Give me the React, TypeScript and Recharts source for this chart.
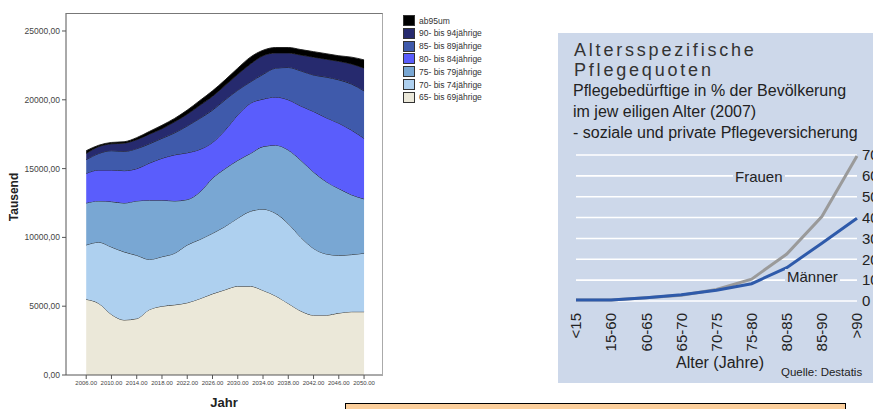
import React from "react"
import { AreaChart, Area, LineChart, Line, XAxis, YAxis, CartesianGrid } from "recharts"

// Pflegebedürftige nach Altersgruppen (Tausend), Jahre 2006–2050
const years = [2006, 2008, 2010, 2012, 2014, 2016, 2018, 2020, 2022, 2024, 2026, 2028, 2030, 2032, 2034, 2036, 2038, 2040, 2042, 2044, 2046, 2048, 2050]
const age65 = [5500, 5200, 4400, 4000, 4100, 4750, 5000, 5100, 5250, 5550, 5900, 6200, 6450, 6450, 6150, 5750, 5200, 4650, 4350, 4350, 4500, 4600, 4600]
const age70 = [3950, 4450, 4900, 4950, 4600, 3650, 3600, 3750, 4200, 4300, 4400, 4600, 4950, 5450, 5900, 6000, 5800, 5350, 4850, 4450, 4200, 4150, 4250]
const age75 = [3050, 3000, 3300, 3550, 3950, 4300, 4100, 3800, 3300, 3450, 4000, 4200, 4200, 4200, 4550, 4950, 5350, 5600, 5550, 5250, 4850, 4350, 3950]
const age80 = [2150, 2250, 2300, 2350, 2350, 2700, 3050, 3350, 3400, 3100, 2600, 2800, 3300, 3650, 3450, 3500, 3650, 3950, 4400, 4650, 4750, 4700, 4400]
const age85 = [1000, 1200, 1400, 1400, 1450, 1400, 1450, 1600, 1950, 2250, 2350, 2200, 1800, 1550, 1800, 2100, 2350, 2550, 2650, 2950, 3150, 3350, 3450]
const age90 = [450, 500, 500, 600, 650, 700, 700, 800, 850, 950, 1000, 1050, 1150, 1300, 1350, 1100, 1050, 1150, 1300, 1300, 1350, 1450, 1650]
const age95 = [200, 100, 100, 100, 150, 200, 250, 250, 300, 350, 400, 400, 450, 500, 400, 400, 400, 400, 400, 400, 400, 500, 600]

const yearTicks = [2006, 2010, 2014, 2018, 2022, 2026, 2030, 2034, 2038, 2042, 2046, 2050]
const valueTicks = [0, 5000, 10000, 15000, 20000, 25000]

// Pflegequoten 2007 in %
const ageGroups = ["<15", "15-60", "60-65", "65-70", "70-75", "75-80", "80-85", "85-90", ">90"]
const frauen = [0.5, 0.5, 1.5, 2.8, 5.5, 10.5, 22.5, 40.5, 69.5]
const maenner = [0.5, 0.5, 1.6, 3.0, 5.2, 8.3, 16, 27.7, 39.7]
const quoteTicks = [0, 10, 20, 30, 40, 50, 60, 70]

const series = [
  { key: "a65", name: "65- bis 69jährige", color: "#ebe8d9", values: age65 },
  { key: "a70", name: "70- bis 74jährige", color: "#aed0ef", values: age70 },
  { key: "a75", name: "75- bis 79jährige", color: "#79a7d3", values: age75 },
  { key: "a80", name: "80- bis 84jährige", color: "#5a5dfc", values: age80 },
  { key: "a85", name: "85- bis 89jährige", color: "#3f5aab", values: age85 },
  { key: "a90", name: "90- bis 94jährige", color: "#262a6e", values: age90 },
  { key: "a95", name: "ab95um", color: "#000000", values: age95 },
]

const areaData = years.map((year, i) => {
  const row: Record<string, number> = { year }
  series.forEach((s) => (row[s.key] = s.values[i]))
  return row
})

const quoteData = ageGroups.map((age, i) => ({ age, frauen: frauen[i], maenner: maenner[i] }))

const PANEL_BG = "#cdd8ea"

function AgeTick(props: any) {
  const { x, y, payload } = props
  return (
    <text
      transform={`translate(${x},${y + 4}) rotate(-90)`}
      textAnchor="end"
      dy="0.35em"
      fontSize={15}
      fill="#222"
    >
      {payload.value}
    </text>
  )
}

export default function App() {
  return (
    <div
      style={{
        position: "fixed",
        left: 0,
        top: 0,
        width: 873,
        height: 409,
        overflow: "hidden",
        background: "#fff",
        fontFamily: "'Liberation Sans', Arial, sans-serif",
      }}
    >
      {/* linkes Diagramm */}
      <div style={{ position: "absolute", left: 0, top: 0 }}>
        <AreaChart width={400} height={409} data={areaData} margin={{ top: 13, right: 17, left: 0, bottom: 0 }}>
          <XAxis
            dataKey="year"
            type="number"
            domain={[2002.8, 2053]}
            ticks={yearTicks}
            allowDataOverflow
            interval={0}
            height={34}
            tickSize={4}
            tickMargin={2}
            tick={{ fontSize: 6, fill: "#444" }}
            stroke="#555"
            tickFormatter={(v) => v.toFixed(2)}
          />
          <YAxis
            type="number"
            domain={[0, 26308]}
            ticks={valueTicks}
            allowDataOverflow
            interval={0}
            width={66}
            tickSize={4}
            tickMargin={2}
            tick={{ fontSize: 8.5, fill: "#444" }}
            stroke="#555"
            tickFormatter={(v) => v.toFixed(2).replace(".", ",")}
          />
          {series.map((s) => (
            <Area
              key={s.key}
              dataKey={s.key}
              name={s.name}
              stackId="a"
              type="monotone"
              fill={s.color}
              fillOpacity={1}
              stroke="#1a1a1a"
              strokeWidth={0.9}
              isAnimationActive={false}
            />
          ))}
        </AreaChart>
      </div>
      {/* Rahmen oben/rechts */}
      <div
        style={{
          position: "absolute",
          left: 66,
          top: 13,
          width: 316,
          height: 362,
          borderTop: "1px solid #777",
          borderRight: "1px solid #aaa",
          pointerEvents: "none",
        }}
      />
      <div
        style={{
          position: "absolute",
          left: 14,
          top: 197,
          transform: "translate(-50%,-50%) rotate(-90deg)",
          fontSize: 12,
          fontWeight: "bold",
          color: "#222",
          whiteSpace: "nowrap",
        }}
      >
        Tausend
      </div>
      <div
        style={{
          position: "absolute",
          left: 224,
          top: 402,
          transform: "translate(-50%,-50%)",
          fontSize: 13,
          fontWeight: "bold",
          color: "#222",
        }}
      >
        Jahr
      </div>
      {/* Legende */}
      {[...series].reverse().map((s, i) => (
        <div
          key={s.key}
          style={{ position: "absolute", left: 403, top: 15 + i * 12.8, height: 11, display: "flex", alignItems: "center" }}
        >
          <div style={{ width: 10, height: 9, background: s.color, border: "1px solid #333" }} />
          <span style={{ marginLeft: 4, fontSize: 8.5, color: "#333", whiteSpace: "nowrap" }}>{s.name}</span>
        </div>
      ))}

      {/* rechtes Panel */}
      <div style={{ position: "absolute", left: 558, top: 33, width: 330, height: 350, background: PANEL_BG, overflow: "hidden" }}>
        <div style={{ position: "absolute", left: 16, top: 7, fontSize: 18, letterSpacing: 2.8, lineHeight: "20px", color: "#333" }}>
          Altersspezifische
          <br />
          Pflegequoten
        </div>
        <div style={{ position: "absolute", left: 15, top: 47, fontSize: 16, lineHeight: "21px", color: "#222", whiteSpace: "nowrap" }}>
          Pflegebedürftige in % der Bevölkerung
          <br />
          im jew eiligen Alter (2007)
          <br />- soziale und private Pflegeversicherung
        </div>
        <div style={{ position: "absolute", left: 0, top: 0 }}>
          <LineChart width={360} height={350} data={quoteData} margin={{ top: 122, right: 0, left: 18, bottom: 0 }}>
            <CartesianGrid vertical={false} stroke="#ffffff" strokeWidth={1.6} />
            <XAxis dataKey="age" height={82} axisLine={false} tickLine={false} interval={0} tick={<AgeTick />} />
            <YAxis
              orientation="right"
              domain={[0, 70]}
              ticks={quoteTicks}
              interval={0}
              width={61}
              axisLine={false}
              tickLine={false}
              tickSize={0}
              tickMargin={5}
              tick={{ fontSize: 15, fill: "#222" }}
            />
            <Line dataKey="frauen" stroke="#9a9a9a" strokeWidth={3} dot={false} type="linear" isAnimationActive={false} />
            <Line dataKey="maenner" stroke="#2e5aaa" strokeWidth={3} dot={false} type="linear" isAnimationActive={false} />
          </LineChart>
        </div>
        <span style={{ position: "absolute", left: 175, top: 136, fontSize: 15, lineHeight: "16px", padding: "0 2px", background: PANEL_BG, color: "#222" }}>
          Frauen
        </span>
        <span style={{ position: "absolute", left: 227, top: 236, fontSize: 15, lineHeight: "16px", padding: "0 2px", background: PANEL_BG, color: "#222" }}>
          Männer
        </span>
        <div style={{ position: "absolute", left: 162, top: 330, transform: "translate(-50%,-50%)", fontSize: 16, color: "#222", whiteSpace: "nowrap" }}>
          Alter (Jahre)
        </div>
        <div style={{ position: "absolute", left: 223, top: 333, fontSize: 11.5, color: "#222", whiteSpace: "nowrap" }}>
          Quelle: Destatis
        </div>
      </div>

      {/* Kasten unten */}
      <div style={{ position: "absolute", left: 345, top: 403, width: 499, height: 20, background: "#fccf9c", border: "1px solid #000" }} />
    </div>
  )
}
